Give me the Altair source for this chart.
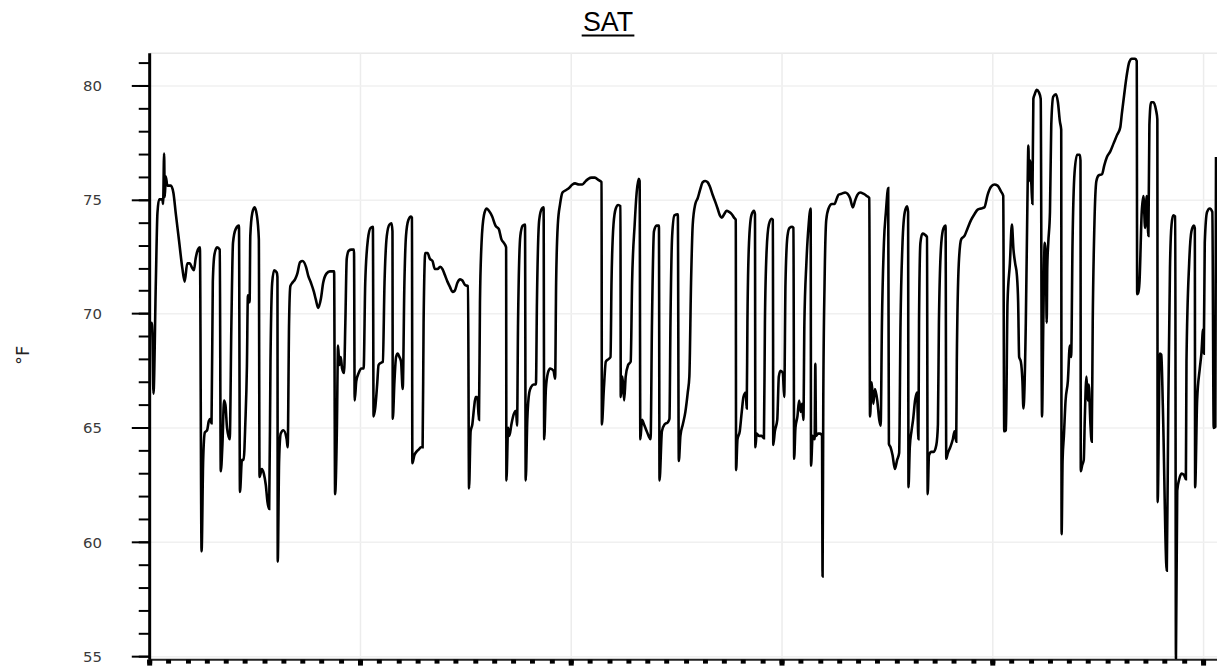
import altair as alt
import pandas as pd

# time index (sample position along the x axis) and supply-air temperature (°F)
t_idx = [
    0, 0.8, 2.5, 3.3, 4.3, 6.7, 8.3, 10, 13.3, 14,
    15, 15.7, 16.7, 18.3, 21.7, 24.3, 26.7, 30, 33.3, 35.7,
    38.3, 40.7, 43.3, 45, 46.7, 49, 51, 52.7, 54.3, 56,
    58.3, 60, 61.7, 62.7, 64, 65.7, 68.3, 71, 72, 73.7,
    75.3, 76.7, 78.3, 81, 82.7, 84.3, 87, 90.3, 91.3, 93.3,
    95, 96.7, 98.3, 99.3, 101, 101.7, 103.7, 106, 108.3, 110.3,
    111, 113.3, 115.3, 117.3, 119, 120.7, 122, 123.7, 125.7, 128.3,
    129, 129.3, 130.7, 132.3, 135, 138.3, 139.3, 140.7, 142, 144,
    146.7, 149, 151.7, 154.3, 157.7, 160, 162.7, 165.7, 167.7, 170,
    172.7, 175, 178.3, 181.7, 186, 187, 188.7, 190, 191.3, 192.7,
    194, 196, 197.3, 198.7, 200.7, 203.3, 206, 206.7, 208.3, 210.7,
    213.3, 215.7, 217.3, 220, 222.7, 225, 225.7, 227.3, 229.3, 230.7,
    233.3, 235, 236.7, 239, 241.7, 243.7, 244.7, 245, 246.7, 248.3,
    250, 251.7, 253.3, 255, 256.7, 258.3, 260.7, 263.3, 264.3, 264.7,
    266.7, 268.7, 271, 273.3, 275, 276, 277.7, 280, 282.3, 285,
    287.3, 290, 292.7, 295, 297.3, 300, 302.7, 305, 307.3, 310,
    312.7, 315, 317.7, 320.7, 321.7, 323.3, 325, 326.7, 328.3, 330,
    331.7, 332.7, 334.3, 336.7, 339.3, 341.7, 345, 348.3, 351.7, 354.3,
    356.7, 359, 359.3, 361, 362.3, 364.3, 366.7, 369, 370, 371,
    373.3, 375.7, 378, 378.7, 380.3, 382.3, 384.3, 386.7, 389, 390,
    392.3, 395, 396.7, 397.3, 399, 401, 403.3, 406.7, 408.3, 409.3,
    411, 413.3, 415.7, 419, 422.3, 425.7, 428.3, 432.3, 435.7, 439,
    441.7, 445, 448.3, 451.7, 455, 455.3, 457.3, 459.3, 461.7, 464,
    465, 467, 469.3, 471.7, 474, 474.3, 476, 477.7, 479.3, 481.7,
    484.3, 485.7, 488.3, 490.3, 492.3, 493.3, 494, 495.7, 497.7, 500,
    502.3, 504.3, 505.7, 507.7, 510.3, 512.7, 513.3, 515.7, 518.3, 521.7,
    523.3, 524.3, 526, 528.3, 531.7, 532.7, 534.3, 536.7, 539.3, 541.7,
    543.3, 545, 546.7, 549.3, 551.7, 554, 556.7, 559.3, 561.7, 564,
    566.7, 569.3, 571.7, 574, 576, 578.3, 580.7, 583.3, 586, 588.3,
    590, 590.3, 591.7, 594, 596, 597.7, 600, 601, 601.7, 603.3,
    605.7, 608.3, 609.3, 609.7, 611, 613.3, 616, 618.3, 619.3, 621,
    623.3, 626, 627.3, 627.7, 629.3, 631.7, 633.3, 635, 637.3, 638.7,
    640, 642, 644, 646.7, 648, 648.7, 650, 652, 653.7, 655.3,
    656.7, 658, 659, 661, 663.3, 665.3, 665.7, 667.3, 669.3, 670,
    670.7, 672.7, 675, 676.7, 677.3, 678, 679.3, 681, 683.3, 686.7,
    689.3, 691.7, 693.3, 696.7, 700, 702.3, 705, 707.7, 710, 712.3,
    715, 718.3, 721.7, 724.3, 725, 726.7, 728.3, 730, 732.3, 734.3,
    735.7, 737, 739, 741, 743.3, 744, 745.7, 747.7, 750, 752.3,
    754.3, 755.7, 757.7, 760, 762.3, 763.3, 763.7, 765, 766.7, 768.3,
    770.3, 772.3, 773.7, 774.3, 775.7, 777.7, 780.3, 782.3, 783, 784.3,
    786.7, 789, 791.7, 793.3, 794.3, 796.7, 799, 801, 801.7, 803.3,
    805.7, 808.3, 810, 811.7, 812.3, 814.3, 816.7, 820, 823.3, 826.7,
    830, 833.3, 836.7, 840, 843.3, 846.7, 850, 853.3, 856.7, 859,
    860, 861.7, 863.3, 865.7, 867.7, 869.3, 871, 872.7, 874, 875,
    876.7, 878.3, 879.3, 881.7, 883.3, 884.3, 885, 886, 887.3, 888.3,
    889.3, 890.7, 892.7, 894.7, 896.7, 898, 899.3, 900.7, 902, 902.7,
    903.3, 904.3, 906, 907.3, 909.3, 912, 914, 916, 917.3, 917.7,
    918.7, 920, 921.7, 924, 926, 927.3, 928.7, 930.7, 933.3, 936,
    936.7, 937, 938.3, 940, 941, 942.7, 944, 945, 946.7, 948,
    949, 950.7, 952.7, 955, 958.3, 960.7, 963.3, 966.7, 970, 973.3,
    976.7, 978.3, 980.7, 983.3, 985.7, 988.3, 991.7, 993.3, 993.7, 994.7,
    996, 998.3, 1000, 1001.7, 1003.3, 1005, 1006, 1007.7, 1010, 1012.7,
    1014, 1014.3, 1016.5, 1018, 1019.5, 1023.5, 1025, 1026.7, 1028.3, 1030,
    1032, 1032.7, 1034, 1036, 1038.3, 1040.7, 1042.7, 1043.3, 1046, 1048.3,
    1050.7, 1051.7, 1052, 1054, 1056.7, 1058.3, 1060, 1060.7, 1061.7, 1064,
    1066.7, 1069.3, 1070.7, 1072.3, 1073,
]

sat_f = [
    70.9, 69.4, 69.6, 69.0, 66.5, 71.4, 74.4, 75.0, 75.0, 74.8,
    77.0, 75.1, 76.0, 75.6, 75.6, 75.3, 74.4, 73.2, 72.0, 71.4,
    72.2, 72.2, 72.0, 71.9, 72.4, 72.8, 72.9, 59.6, 63.6, 64.8,
    64.9, 65.3, 65.4, 65.2, 71.4, 72.6, 72.9, 72.8, 63.1, 64.3,
    66.2, 66.0, 65.0, 64.5, 69.6, 73.1, 73.7, 73.85, 62.2, 63.6,
    63.6, 65.2, 67.7, 70.8, 70.5, 73.4, 74.4, 74.65, 74.3, 73.25,
    62.85, 63.2, 63.0, 62.5, 61.75, 61.45, 67.9, 71.35, 71.9, 71.8,
    71.6, 59.15, 63.6, 64.75, 64.9, 64.5, 64.15, 69.6, 71.2, 71.35,
    71.5, 71.75, 72.25, 72.3, 72.05, 71.65, 71.35, 70.95, 70.6, 70.25,
    70.65, 71.35, 71.75, 71.85, 71.85, 62.1, 64.7, 68.6, 67.75, 68.1,
    67.6, 67.4, 69.6, 72.4, 72.75, 72.8, 72.8, 66.2, 67.05, 67.4,
    67.6, 67.6, 71.35, 73.25, 73.75, 73.8, 65.5, 65.85, 66.9, 67.75,
    67.85, 67.9, 71.35, 73.4, 73.9, 73.95, 73.6, 65.4, 67.05, 68.1,
    68.25, 68.1, 67.9, 66.7, 71.35, 73.4, 74.1, 74.25, 74.2, 63.45,
    63.8, 63.95, 64.05, 64.15, 64.15, 69.6, 72.65, 72.65, 72.4, 72.3,
    71.95, 71.95, 72.05, 71.95, 71.7, 71.4, 71.15, 70.95, 71.0, 71.35,
    71.5, 71.45, 71.25, 71.2, 62.35, 64.85, 65.15, 65.85, 66.35, 66.35,
    65.35, 70.5, 73.1, 74.3, 74.6, 74.5, 74.25, 73.85, 73.7, 73.25,
    73.1, 72.9, 62.7, 65.0, 64.65, 65.15, 65.6, 65.75, 65.1, 69.6,
    73.4, 73.85, 73.9, 62.7, 65.35, 66.55, 66.8, 66.9, 66.9, 70.5,
    74.1, 74.6, 74.65, 64.5, 66.7, 67.4, 67.6, 67.5, 67.15, 71.35,
    73.9, 74.8, 75.3, 75.4, 75.5, 75.65, 75.7, 75.65, 75.65, 75.8,
    75.9, 75.95, 75.95, 75.85, 75.75, 65.15, 66.7, 67.9, 68.0, 68.1,
    71.35, 73.9, 74.6, 74.75, 74.7, 66.35, 67.25, 66.2, 67.25, 67.75,
    67.9, 71.35, 73.9, 75.3, 75.9, 75.8, 64.5, 65.35, 65.15, 64.9,
    64.65, 64.5, 69.6, 73.6, 73.85, 73.85, 62.7, 64.85, 65.15, 65.25,
    65.4, 69.6, 73.4, 74.3, 74.35, 63.55, 64.65, 65.15, 65.7, 66.55,
    67.25, 71.35, 73.9, 74.8, 75.05, 75.4, 75.75, 75.8, 75.75, 75.55,
    75.2, 74.9, 74.6, 74.3, 74.2, 74.35, 74.5, 74.45, 74.35, 74.2,
    74.1, 63.15, 64.5, 64.85, 65.7, 66.35, 66.55, 65.85, 69.6, 73.1,
    74.3, 74.5, 74.35, 64.15, 64.75, 64.65, 64.65, 64.55, 69.6, 72.75,
    73.9, 74.15, 74.1, 64.25, 64.85, 65.35, 67.25, 67.5, 67.4, 66.35,
    71.35, 73.4, 73.75, 73.8, 73.75, 63.65, 65.0, 65.5, 66.2, 65.7,
    66.05, 65.35, 69.6, 72.2, 73.9, 74.6, 63.35, 64.65, 64.5, 67.8,
    64.65, 64.75, 64.75, 64.65, 58.5, 66.2, 71.35, 74.1, 74.6, 74.8,
    74.8, 75.05, 75.2, 75.25, 75.3, 75.25, 75.05, 74.65, 74.95, 75.2,
    75.3, 75.25, 75.15, 75.05, 65.5, 67.0, 66.05, 66.7, 66.2, 65.35,
    65.1, 69.6, 73.1, 74.45, 75.5, 64.3, 64.15, 63.8, 63.2, 63.6,
    63.9, 69.6, 73.1, 74.45, 74.7, 74.45, 62.4, 64.15, 64.85, 65.35,
    66.2, 66.55, 64.5, 69.6, 73.1, 73.5, 73.45, 73.35, 62.1, 63.8,
    63.95, 63.95, 64.25, 65.15, 69.6, 73.1, 73.75, 73.85, 63.65, 63.9,
    64.15, 64.5, 64.85, 64.4, 67.9, 72.2, 73.25, 73.4, 73.75, 74.1,
    74.35, 74.55, 74.6, 74.65, 75.2, 75.55, 75.65, 75.6, 75.35, 75.15,
    64.85, 64.9, 70.5, 72.2, 73.9, 72.8, 72.2, 71.7, 70.5, 68.1,
    67.9, 67.05, 65.85, 69.6, 74.8, 77.35, 75.8, 76.7, 75.65, 74.8,
    79.4, 79.6, 79.8, 79.7, 79.4, 65.5, 69.6, 73.1, 72.05, 69.6,
    72.05, 73.1, 74.45, 78.25, 79.5, 79.6, 79.25, 78.4, 78.05, 60.35,
    63.6, 64.65, 66.2, 67.05, 68.6, 68.1, 73.1, 76.15, 76.95, 76.95,
    76.7, 63.1, 63.35, 63.6, 65.35, 67.25, 66.2, 66.9, 65.15, 64.4,
    69.6, 73.9, 75.8, 76.05, 76.1, 76.5, 76.85, 77.1, 77.45, 77.8,
    78.15, 78.75, 79.6, 80.45, 81.0, 81.15, 81.15, 81.05, 70.85, 70.9,
    71.35, 74.45, 75.15, 73.75, 75.15, 73.4, 78.25, 79.25, 79.25, 78.9,
    78.5, 61.75, 68.25, 68.2, 66.0, 58.75, 66.0, 72.0, 73.9, 74.3,
    74.25, 54.9, 62.25, 62.75, 63.0, 62.95, 62.75, 67.9, 72.2, 73.6,
    73.85, 73.75, 62.4, 66.2, 67.6, 68.25, 69.3, 68.25, 73.1, 74.45,
    74.6, 74.45, 65.0, 65.05, 76.85,
]

y_major = [55, 60, 65, 70, 75, 80]
y_minor = [v for v in range(55, 82)]
x_major = [0, 212, 424, 636, 848, 1060]
x_minor = [round(i * 212 / 11, 2) for i in range(56)]

chart_title = ["SAT"]
y_title = "°F"

df = pd.DataFrame({"t": t_idx, "sat": sat_f})

xs = alt.Scale(domain=[0, 1074], nice=False, zero=False)
ys = alt.Scale(domain=[54.88, 81.42], nice=False, zero=False)

main = alt.Chart(df).mark_line(
    color="black", strokeWidth=2.6, clip=True, interpolate="monotone"
).encode(
    x=alt.X(
        "t:Q",
        scale=xs,
        axis=alt.Axis(
            orient="bottom",
            values=x_major, labels=False, title=None, grid=True,
            gridColor="#ececec", gridWidth=1.5,
            domainColor="#222222", domainWidth=2,
            tickSize=6, tickWidth=5, tickColor="black",
        ),
    ),
    y=alt.Y(
        "sat:Q",
        scale=ys,
        axis=alt.Axis(
            orient="left",
            values=y_major, format="d", grid=True,
            gridColor="#f0f0f0", gridWidth=1.5,
            domainColor="black", domainWidth=3,
            tickSize=18, tickWidth=2, tickColor="black",
            labelPadding=30, labelFont="DejaVu Sans", labelFontSize=15,
            labelColor="#3a3a3a",
            title=y_title, titleFont="DejaVu Sans", titleFontSize=18,
            titleFontWeight="normal", titleColor="#222222",
            titleAngle=270, titleAlign="center", titleBaseline="middle",
            titleX=-126, titleY=304,
        ),
    ),
)

minor = alt.Chart(df).mark_line(opacity=0).encode(
    x=alt.X(
        "t:Q",
        scale=xs,
        axis=alt.Axis(
            orient="bottom", values=x_minor, labels=False, title=None,
            grid=False, domain=False,
            tickSize=4, tickWidth=5, tickColor="black",
        ),
    ),
    y=alt.Y(
        "sat:Q",
        scale=ys,
        axis=alt.Axis(
            orient="left", values=y_minor, labels=False, title=None,
            grid=False, domain=False,
            tickSize=11, tickWidth=2, tickColor="black",
        ),
    ),
)

title_df = pd.DataFrame({"label": chart_title})

title_text = alt.Chart(title_df).mark_text(
    font="Liberation Sans", fontSize=27, color="black",
    align="center", baseline="alphabetic",
).encode(text="label:N", x=alt.value(461.5), y=alt.value(-21.7))

underline = alt.Chart(title_df).mark_rule(
    color="black", strokeWidth=2
).encode(x=alt.value(435), x2=alt.value(488), y=alt.value(-17.3))

chart = (
    alt.layer(main, minor, title_text, underline)
    .resolve_axis(x="independent", y="independent")
    .properties(
        width=1074,
        height=610,
        autosize=alt.AutoSizeParams(type="none"),
        padding={"left": 142, "top": 43, "right": 0, "bottom": 8},
    )
    .configure_view(stroke=None)
    .configure(background="white")
)

chart.save("out.html", embed_options={"renderer": "svg", "actions": False})
